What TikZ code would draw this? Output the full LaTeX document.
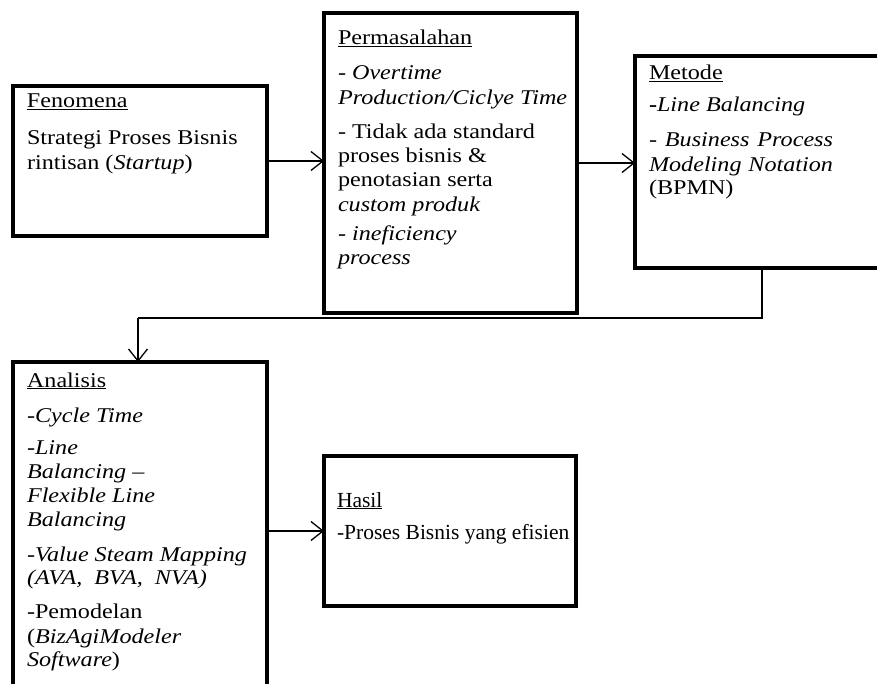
\documentclass[tikz,border=0pt]{standalone}
\usepackage{fontspec}
\setmainfont{Liberation Serif}[FakeStretch=1.15]
\newfontfamily\plainserif{Liberation Serif}
\usetikzlibrary{arrows.meta}
\begin{document}
\begin{tikzpicture}[x=1pt,y=-1pt,
  box/.style={draw=black, line width=4pt, fill=white, rectangle, anchor=north west, inner sep=0pt, outer sep=0pt},
  txt/.style={anchor=base west, inner sep=0pt, outer sep=0pt, font=\fontsize{21}{24.3}\selectfont, align=left},
  arr/.style={line width=1.3pt, -{Straight Barb[length=12pt,width=19pt,line width=1.3pt]}}]
\clip (0,0) rectangle (877,684);
\fill[white] (0,0) rectangle (877,684);
% boxes
\node[box, minimum width=254pt, minimum height=150pt] (fen) at (13,86) {};
\node[box, minimum width=253pt, minimum height=300pt] (perm) at (324,13) {};
\node[box, minimum width=265pt, minimum height=212pt] (met) at (635,56) {};
\node[box, minimum width=254pt, minimum height=358pt] (ana) at (13,362) {};
\node[box, minimum width=252pt, minimum height=150pt] (has) at (324,456) {};
% texts
\node[txt] (tfen) at (27,108) {\begin{tabular}[t]{@{}l@{}}
\underline{Fenomena}\\[12.7pt]
Strategi Proses Bisnis\\
rintisan (\textit{Startup})
\end{tabular}};
\node[txt] (tperm) at (338,45) {\begin{tabular}[t]{@{}l@{}}
\underline{Permasalahan}\\[10.7pt]
- \textit{Overtime}\\
\textit{Production/Ciclye Time}\\[9.7pt]
- Tidak ada standard\\
proses bisnis \&\\
penotasian serta\\
\textit{custom produk}\\[4.7pt]
- \textit{ineficiency}\\
\textit{process}
\end{tabular}};
\node[txt] (tmet) at (649,80) {\begin{tabular}[t]{@{}l@{}}
\underline{Metode}\\[7.7pt]
\textbf{-}\textit{Line Balancing}\\[10.7pt]
\makebox[184pt][s]{- \textit{Business Process}}\\
\makebox[184pt][s]{\textit{Modeling Notation}}\\[-1.3pt]
(BPMN)
\end{tabular}};
\node[txt] (tana) at (27,387) {\begin{tabular}[t]{@{}l@{}}
\underline{Analisis}\\[10.7pt]
-\textit{Cycle Time}\\[7.7pt]
-\textit{Line}\\
\textit{Balancing –}\\
\textit{Flexible Line}\\
\textit{Balancing}\\[10.7pt]
-\textit{Value Steam Mapping}\\[-1.3pt]
\textit{(AVA,\ \ BVA,\ \ NVA)}\\[9.7pt]
-Pemodelan\\
(\textit{BizAgiModeler}\\[-1.3pt]
\textit{Software})
\end{tabular}};
\node[txt, font=\plainserif\fontsize{21.5}{24.3}\selectfont] (thas) at (337,507) {\begin{tabular}[t]{@{}l@{}}
\underline{Hasil}\\[7.7pt]
-Proses Bisnis yang efisien
\end{tabular}};
% connectors
\coordinate (turnA) at (762,318);
\coordinate (turnB) at (138,318);
\draw[arr] (fen.east) -- (fen.east -| perm.west);
\draw[arr] (perm.east) -- (perm.east -| met.west);
\draw[line width=1.3pt] (turnA |- met.south) -- (turnA) -- (turnB);
\draw[arr] (turnB) -- (turnB |- ana.north);
\draw[arr] (has.west -| ana.east) -- (has.west);
\end{tikzpicture}
\end{document}
